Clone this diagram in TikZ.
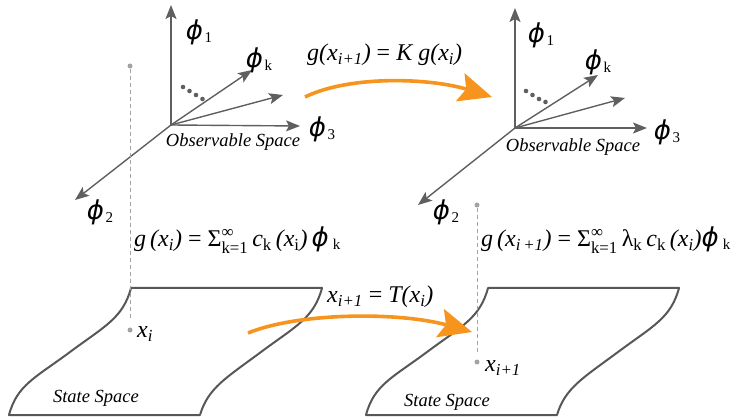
\documentclass[tikz,border=0pt]{standalone}
\usepackage{amsmath}
\usepackage{fontspec}
\setmainfont{Liberation Serif}
\newfontfamily\phifont{DejaVu Sans}
\usetikzlibrary{arrows.meta}

\definecolor{axisgray}{HTML}{5F5F5F}
\definecolor{edgegray}{HTML}{575757}
\definecolor{guidegray}{HTML}{A3A3A3}
\definecolor{maporange}{HTML}{F7941D}

\newcommand{\basis}[1]{{\phifont\itshape\fontsize{26}{26}\selectfont ϕ}\,{\fontsize{15}{15}\selectfont\raisebox{-3pt}{#1}}}
\newcommand{\sumk}{$\text{Σ}^{\text{∞}}_{\text{k=1}}$}

\begin{document}
\begin{tikzpicture}[
        x=1pt, y=-1pt,
        axis/.style={axisgray, line width=1.4pt, -{Stealth[length=14pt,width=11pt,inset=3pt]}},
        flow/.style={maporange, line width=3.6pt, -{Stealth[length=33pt,width=29pt,inset=6pt]}},
        surface/.style={edgegray, line width=2pt, line join=round},
        guide/.style={guidegray, line width=0.8pt, dash pattern=on 4pt off 3pt},
        marker/.style={circle, fill=guidegray, inner sep=0pt, minimum size=5pt},
        basislabel/.style={inner sep=0pt},
        spacelabel/.style={font=\itshape\fontsize{18.5}{18.5}\selectfont, inner sep=0pt},
        eqlabel/.style={font=\fontsize{24}{24}\selectfont, inner sep=0pt, anchor=west}
    ]
    \useasboundingbox (0,0) rectangle (733,419);

    % Left observable space
    \coordinate (lo) at (171,125);
    \coordinate (l1) at (171,5);
    \coordinate (lk) at (252,70);
    \coordinate (lx) at (283,95);
    \coordinate (l3) at (300,126);
    \coordinate (l2) at (75,200);
    \draw [axis] (lo) -- (l1);
    \draw [axis] (lo) -- (lk);
    \draw [axis] (lo) -- (lx);
    \draw [axis] (lo) -- (l3);
    \draw [axis] (lo) -- (l2);
    \fill [axisgray] (183,87) circle (2.3) (189.5,91) circle (2.3) (196,95) circle (2.3) (202.5,99) circle (2.3);
    \node [basislabel] (l1lab) at (199,32) {\basis{1}};
    \node [basislabel] (lklab) at (259,60) {\basis{k}};
    \node [basislabel] (l3lab) at (322,129) {\basis{3}};
    \node [basislabel] (l2lab) at (100,212) {\basis{2}};
    \node [spacelabel] (lobs) at (233,142) {Observable Space};

    % Right observable space
    \coordinate (ro) at (515,128);
    \coordinate (r1) at (515,8);
    \coordinate (rk) at (598,75);
    \coordinate (rx) at (625,98);
    \coordinate (r3) at (647,128);
    \coordinate (r2) at (418,205);
    \draw [axis] (ro) -- (r1);
    \draw [axis] (ro) -- (rk);
    \draw [axis] (ro) -- (rx);
    \draw [axis] (ro) -- (r3);
    \draw [axis] (ro) -- (r2);
    \fill [axisgray] (526,91) circle (2.3) (532.5,95) circle (2.3) (539,99) circle (2.3) (545.5,102) circle (2.3);
    \node [basislabel] (r1lab) at (541,35) {\basis{1}};
    \node [basislabel] (rklab) at (598,62) {\basis{k}};
    \node [basislabel] (r3lab) at (667,132) {\basis{3}};
    \node [basislabel] (r2lab) at (446,212) {\basis{2}};
    \node [spacelabel] (robs) at (573,147) {Observable Space};

    % State spaces
    \begin{scope}[shift={(131,288)}]
        \draw [surface] (0,0) -- (191,0) .. controls (183,30) and (165,38) .. (130,64)
            .. controls (95,90) and (77,100) .. (69,127) -- (-122,127)
            .. controls (-114,97) and (-96,90) .. (-61,64)
            .. controls (-26,38) and (-8,30) .. (0,0) -- cycle;
    \end{scope}
    \begin{scope}[shift={(488,288)}]
        \draw [surface] (0,0) -- (191,0) .. controls (183,30) and (165,38) .. (130,64)
            .. controls (95,90) and (77,100) .. (69,127) -- (-122,127)
            .. controls (-114,97) and (-96,90) .. (-61,64)
            .. controls (-26,38) and (-8,30) .. (0,0) -- cycle;
    \end{scope}
    \node [spacelabel] (lstate) at (96,398) {State Space};
    \node [spacelabel] (rstate) at (447,402) {State Space};

    % Lifting guides
    \node [marker] (lgtop) at (130,66) {};
    \node [marker] (lxi) at (130,330) {};
    \coordinate (lgend) at (130,318);
    \draw [guide] (lgtop) -- (lgend);
    \node [marker] (rgtop) at (477,205) {};
    \node [marker] (rxi) at (477,362) {};
    \coordinate (rgend) at (477,352);
    \draw [guide] (rgtop) -- (rgend);
    \node [eqlabel] (xilab) at (137,334) {\textit{x\textsubscript{i}}};
    \node [eqlabel] (xnlab) at (485,368) {\textit{x\textsubscript{i+1}}};

    % Equations
    \node [eqlabel] (koop) at (307,55) {\textit{g(x\textsubscript{i+1})} = \textit{K g(x\textsubscript{i})}};
    \node [eqlabel] (lexp) at (134,240) {\textit{g\,(x\textsubscript{i})} = \sumk\,\textit{c}\textsubscript{k}\,\textit{(x}\textsubscript{i}\textit{)}\,\basis{k}};
    \node [eqlabel] (rexp) at (481,240) {\textit{g\,(x\textsubscript{i\,+1})} = \sumk\,λ\textsubscript{k}\,\textit{c}\textsubscript{k}\,\textit{(x\textsubscript{i})}\basis{k}};
    \node [eqlabel] (tmap) at (327,297) {\textit{x\textsubscript{i+1}} = \textit{T(x\textsubscript{i})}};

    % Dynamics
    \coordinate (kstart) at (305,97);
    \coordinate (kend) at (492,97);
    \draw [flow] (kstart) .. controls (350,75) and (430,78) .. (kend);
    \coordinate (tstart) at (248,333);
    \coordinate (tend) at (472,332);
    \draw [flow] (tstart) .. controls (300,312) and (400,312) .. (tend);

\end{tikzpicture}
\end{document}
